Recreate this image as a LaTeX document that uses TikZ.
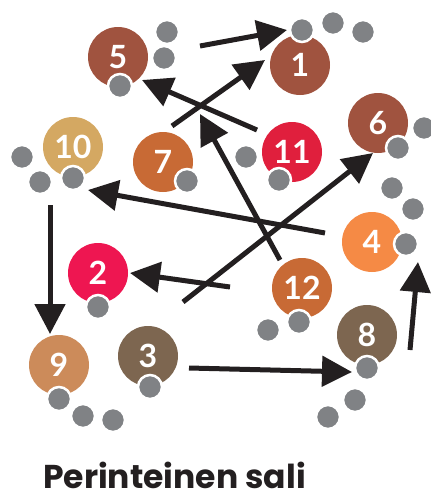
\documentclass[tikz,border=0pt]{standalone}
\usepackage{fontspec}
\setmainfont{Lato}
\newfontfamily\titlefont{Poppins}
\usetikzlibrary{arrows.meta}
\definecolor{cbrown}{HTML}{A0533F}
\definecolor{ctan}{HTML}{D4A862}
\definecolor{corange}{HTML}{C86A35}
\definecolor{cred}{HTML}{E01F3D}
\definecolor{cpink}{HTML}{EE1651}
\definecolor{clorange}{HTML}{F58A45}
\definecolor{cdark}{HTML}{7D6650}
\definecolor{clight}{HTML}{CC8B5A}
\definecolor{cgray}{HTML}{808285}
\definecolor{cblack}{HTML}{231F20}
\tikzset{
  seat/.style={circle, fill=#1, minimum size=60pt, inner sep=0pt, text=white, font=\fontsize{32}{32}\selectfont\bfseries},
  dot/.style={circle, fill=cgray, draw=white, line width=2.5pt, minimum size=24pt, inner sep=0pt},
  mv/.style={draw=cblack, line width=5pt, -{Triangle[length=30pt,width=30pt]}}
}
\begin{document}
\begin{tikzpicture}[x=1pt,y=-1pt]
\useasboundingbox (0,0) rectangle (431,499);
% seats
\node[seat=cbrown] (s5) at (118,57) {5};
\node[seat=cbrown] (s1) at (300,65) {1};
\node[seat=cbrown] (s6) at (378,123) {6};
\node[seat=ctan] (s10) at (73,147) {10};
\node[seat=corange] (s7) at (163,162) {7};
\node[seat=cred] (s11) at (292,152) {11};
\node[seat=clorange] (s4) at (372,242) {4};
\node[seat=cpink] (s2) at (98,273) {2};
\node[seat=corange] (s12) at (302,288) {12};
\node[seat=cdark] (s8) at (367,335) {8};
\node[seat=cdark] (s3) at (148,356) {3};
\node[seat=clight] (s9) at (59,365) {9};
% dots
\node[dot] (d1) at (120,86) {};
\node[dot] (d2) at (167,32) {};
\node[dot] (d3) at (164,58) {};
\node[dot] (d4) at (22,157) {};
\node[dot] (d5) at (40,182) {};
\node[dot] (d6) at (73,178) {};
\node[dot] (d7) at (187,181) {};
\node[dot] (d8) at (302,30) {};
\node[dot] (d9) at (333,23) {};
\node[dot] (d10) at (363,32) {};
\node[dot] (d11) at (398,148) {};
\node[dot] (d12) at (424,128) {};
\node[dot] (d13) at (392,188) {};
\node[dot] (d14) at (413,209) {};
\node[dot] (d15) at (246,157) {};
\node[dot] (d16) at (279,180) {};
\node[dot] (d17) at (406,244) {};
\node[dot] (d18) at (98,307) {};
\node[dot] (d19) at (299,322) {};
\node[dot] (d20) at (268,330) {};
\node[dot] (d21) at (367,368) {};
\node[dot] (d22) at (355,400) {};
\node[dot] (d23) at (328,417) {};
\node[dot] (d24) at (150,387) {};
\node[dot] (d25) at (59,399) {};
\node[dot] (d26) at (83,416) {};
\node[dot] (d27) at (113,420) {};
% arrow end points
\coordinate (a1s) at (200,46);  \coordinate (a1e) at (287,30);
\coordinate (a2s) at (172,126); \coordinate (a2e) at (265,60);
\coordinate (a3s) at (257,130); \coordinate (a3e) at (142,80);
\coordinate (a4s) at (280,260); \coordinate (a4e) at (200,114);
\coordinate (a5s) at (325,233); \coordinate (a5e) at (88,190);
\coordinate (a6s) at (50,205);  \coordinate (a6e) at (50,334);
\coordinate (a7s) at (230,287); \coordinate (a7e) at (130,273);
\coordinate (a8s) at (183,302); \coordinate (a8e) at (373,153);
\coordinate (a9s) at (189,368); \coordinate (a9e) at (352,372);
\coordinate (a10s) at (410,350); \coordinate (a10e) at (418,262);
\draw[mv] (a1s) -- (a1e);
\draw[mv] (a2s) -- (a2e);
\draw[mv] (a3s) -- (a3e);
\draw[mv] (a4s) -- (a4e);
\draw[mv] (a5s) -- (a5e);
\draw[mv] (a6s) -- (a6e);
\draw[mv] (a7s) -- (a7e);
\draw[mv] (a8s) -- (a8e);
\draw[mv] (a9s) -- (a9e);
\draw[mv] (a10s) -- (a10e);
\node[anchor=base west, inner sep=0pt, text=cblack, font=\titlefont\fontsize{33}{33}\selectfont\bfseries] (title) at (43,488) {Perinteinen sali};
\end{tikzpicture}
\end{document}
